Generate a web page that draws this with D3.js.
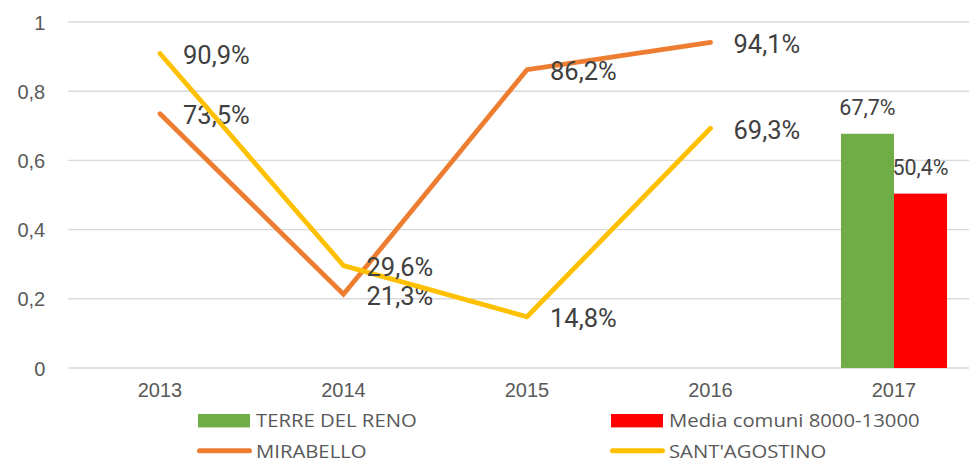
<!DOCTYPE html>
<html>
<head>
<meta charset="utf-8">
<script src="https://cdn.jsdelivr.net/npm/d3@7"></script>
<style>
  html, body { margin: 0; padding: 0; background: #fff; }
  svg { display: block; font-family: Roboto, "Open Sans", sans-serif; }
</style>
</head>
<body>
<svg id="chart" width="969" height="462"></svg>
<script>
// ---- data ----
const years = ["2013", "2014", "2015", "2016", "2017"];
const mirabello = [0.735, 0.213, 0.862, 0.941];
const santAgostino = [0.909, 0.296, 0.148, 0.693];
const barYear = "2017";
const barSeries = ["TERRE DEL RENO", "Media comuni 8000-13000"];
const barValues = [0.677, 0.504];
const yTicks = [0, 0.2, 0.4, 0.6, 0.8, 1];

// ---- look ----
const colors = {
  "TERRE DEL RENO": "#70AD47",
  "Media comuni 8000-13000": "#FF0000",
  "MIRABELLO": "#ED7D31",
  "SANT'AGOSTINO": "#FFC000"
};
const labelColor = "#404040";
const tickColor = "#595959";

const it = d3.formatLocale({ decimal: ",", thousands: ".", grouping: [3], currency: ["€", ""] });
const pct = it.format(".1%");
const num = it.format("~g");

const svg = d3.select("#chart");
const plot = { left: 68.25, right: 985.75, top: 22, bottom: 368 };

const x = d3.scaleBand().domain(years).range([plot.left, plot.right]).paddingInner(0).paddingOuter(0);
const y = d3.scaleLinear().domain([0, 1]).range([plot.bottom, plot.top]);
const bw = x.bandwidth();
const groupW = bw * 0.578;
const xb = d3.scaleBand().domain(barSeries).range([(bw - groupW) / 2, (bw + groupW) / 2]);

// y axis labels and gridlines
const yAxis = d3.axisLeft(y).tickValues(yTicks).tickFormat(num).tickSize(0).tickPadding(23);
const gy = svg.append("g").attr("transform", `translate(${plot.left},0)`).call(yAxis);
gy.select(".domain").remove();
gy.selectAll(".tick text")
  .attr("fill", tickColor).style("font-size", "20px").attr("dy", "0.35em");
svg.append("g").selectAll("line").data(yTicks).join("line")
  .attr("x1", plot.left).attr("x2", plot.right)
  .attr("y1", d => y(d)).attr("y2", d => y(d))
  .attr("stroke", "#D9D9D9").attr("stroke-width", 1.4);

// x axis labels
const xAxis = d3.axisBottom(x).tickSize(0).tickPadding(22);
const gx = svg.append("g").attr("transform", `translate(0,${plot.bottom})`).call(xAxis);
gx.select(".domain").remove();
gx.selectAll(".tick text").attr("fill", tickColor).style("font-size", "20px").attr("dy", "0.35em");

// bars (2017)
const bars = barSeries.map((s, i) => ({ s, v: barValues[i] }));
const gb = svg.append("g").attr("transform", `translate(${x(barYear)},0)`);
gb.selectAll("rect").data(bars).join("rect")
  .attr("x", d => xb(d.s)).attr("width", xb.bandwidth())
  .attr("y", d => y(d.v)).attr("height", d => y(0) - y(d.v))
  .attr("fill", d => colors[d.s]);
gb.selectAll("text").data(bars).join("text")
  .attr("x", d => xb(d.s) + xb.bandwidth() / 2)
  .attr("y", d => y(d.v) - 19)
  .attr("text-anchor", "middle")
  .attr("fill", labelColor).style("font-size", "21.5px")
  .text(d => pct(d.v));

// lines with their value labels
const line = d3.line().x(d => x(d.year) + bw / 2).y(d => y(d.v));
function drawSeries(name, values) {
  const pts = values.map((v, i) => ({ year: years[i], v }));
  svg.append("path").datum(pts)
    .attr("d", line).attr("fill", "none")
    .attr("stroke", colors[name]).attr("stroke-width", 4.8)
    .attr("stroke-linecap", "round").attr("stroke-linejoin", "miter");
  svg.append("g").selectAll("text").data(pts).join("text")
    .attr("x", d => x(d.year) + bw / 2 + 23)
    .attr("y", d => y(d.v) + 1.5)
    .attr("dy", "0.35em")
    .attr("fill", labelColor).style("font-size", "25.5px")
    .text(d => pct(d.v));
}
drawSeries("MIRABELLO", mirabello);
drawSeries("SANT'AGOSTINO", santAgostino);

// legend: two columns, two rows
const legendItems = [
  { name: "TERRE DEL RENO", type: "bar", col: 0, row: 0 },
  { name: "Media comuni 8000-13000", type: "bar", col: 1, row: 0 },
  { name: "MIRABELLO", type: "line", col: 0, row: 1 },
  { name: "SANT'AGOSTINO", type: "line", col: 1, row: 1 }
];
const legendX = [198, 611];
const legendY = [420.7, 450.8];
const lg = svg.append("g").selectAll("g").data(legendItems).join("g")
  .attr("transform", d => `translate(${legendX[d.col]},${legendY[d.row]})`);
lg.filter(d => d.type === "bar").append("rect")
  .attr("x", 0).attr("y", -6.7).attr("width", 52).attr("height", 13.4)
  .attr("fill", d => colors[d.name]);
lg.filter(d => d.type === "line").append("line")
  .attr("x1", 1.5).attr("x2", 51.5).attr("y1", 0).attr("y2", 0)
  .attr("stroke", d => colors[d.name]).attr("stroke-width", 5).attr("stroke-linecap", "round");
lg.append("text")
  .attr("transform", "translate(58,0) scale(1.08,1)")
  .attr("dy", "0.36em")
  .attr("fill", tickColor)
  .style("font-family", "'Open Sans', sans-serif")
  .style("font-size", "18.8px")
  .text(d => d.name);
</script>
</body>
</html>
